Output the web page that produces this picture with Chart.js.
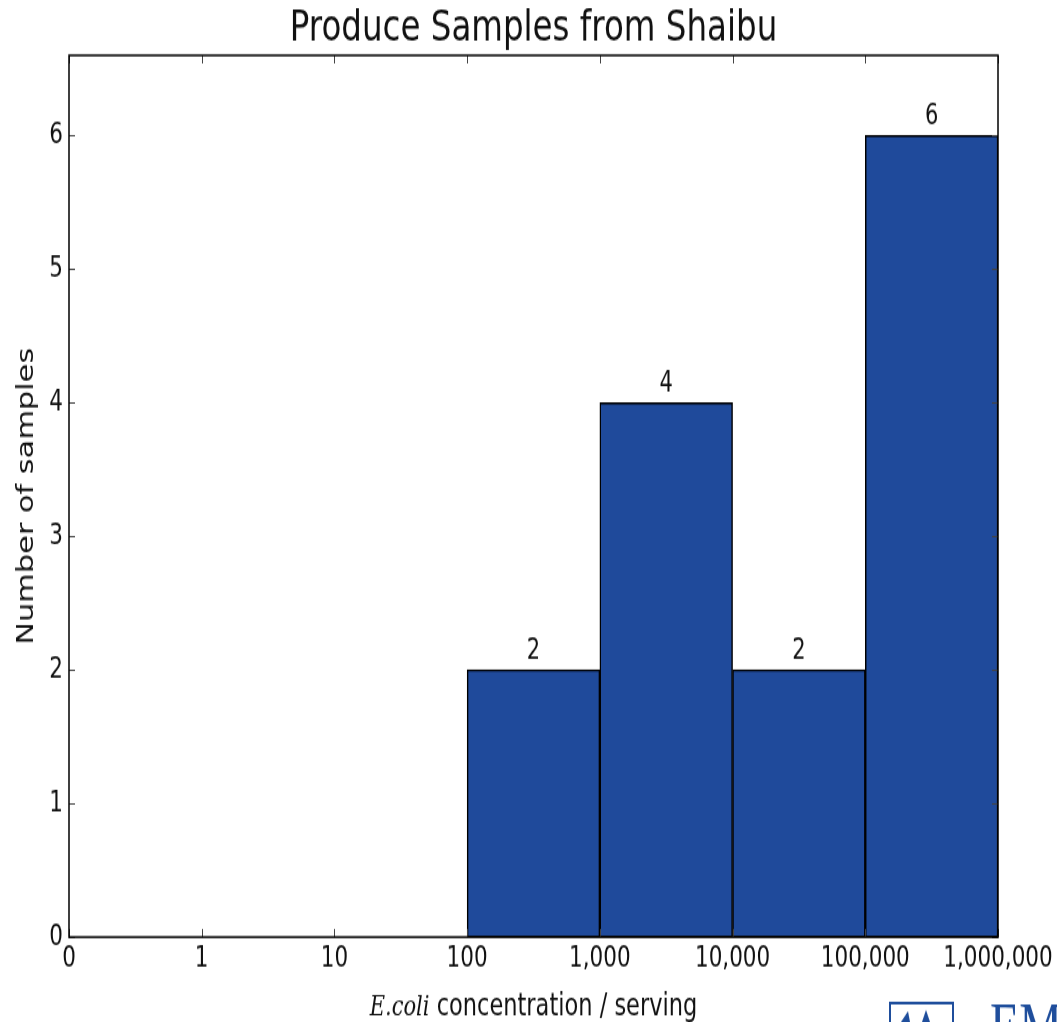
<!DOCTYPE html>
<html>
<head>
<meta charset="utf-8">
<script src="https://cdn.jsdelivr.net/npm/chart.js@4.4.0/dist/chart.umd.min.js"></script>
<style>
  html, body { margin: 0; padding: 0; background: #fff; overflow: hidden; }
  /* the source picture is stretched vertically, so draw a short canvas and scale it up */
  #chart { display: block; width: 1057px !important; height: 1022px !important; }
</style>
</head>
<body>
<canvas id="chart" width="1057" height="757"></canvas>
<script>
// Histogram data
const binEdges = ['0', '1', '10', '100', '1,000', '10,000', '100,000', '1,000,000'];
const counts = [0, 0, 0, 2, 4, 2, 6];
const yTicks = [0, 1, 2, 3, 4, 5, 6];
const yMax = 6.6;

const textColor = '#111';
const barColor = '#1f4a9b';
const logoColor = '#1f4e9c';

// Count labels on top of each bar
const barLabels = {
  id: 'barLabels',
  afterDatasetsDraw(chart) {
    const ctx = chart.ctx;
    ctx.save();
    ctx.font = '21px "DejaVu Sans"';
    ctx.fillStyle = textColor;
    ctx.textAlign = 'center';
    ctx.textBaseline = 'bottom';
    chart.getDatasetMeta(0).data.forEach((bar, i) => {
      if (counts[i] > 0) ctx.fillText(String(counts[i]), bar.x, bar.y - 3);
    });
    ctx.restore();
  }
};

// Box frame with inward ticks, x title with italic E.coli, cut-off logo
const frame = {
  id: 'frame',
  afterDraw(chart) {
    const ctx = chart.ctx;
    const {left, right, top, bottom} = chart.chartArea;
    const xs = chart.scales.x, ys = chart.scales.y;
    ctx.save();
    ctx.strokeStyle = '#444';
    ctx.lineWidth = 1;
    ctx.beginPath();
    binEdges.forEach((_, i) => {
      const px = Math.round(xs.getPixelForValue(i)) + 0.5;
      ctx.moveTo(px, bottom); ctx.lineTo(px, bottom - 6);
      ctx.moveTo(px, top); ctx.lineTo(px, top + 6);
    });
    yTicks.forEach(v => {
      const py = Math.round(ys.getPixelForValue(v)) + 0.5;
      ctx.moveTo(left, py); ctx.lineTo(left + 6, py);
      ctx.moveTo(right, py); ctx.lineTo(right - 6, py);
    });
    ctx.stroke();

    ctx.strokeStyle = '#000';
    ctx.lineWidth = 1.5;
    ctx.strokeRect(left, top, right - left, bottom - top);

    // x axis title
    const part1 = 'E.coli';
    const part2 = ' concentration / serving';
    const f1 = 'italic 21px "DejaVu Serif"';
    const f2 = '22.5px "DejaVu Sans"';
    ctx.font = f1;
    const w1 = ctx.measureText(part1).width;
    ctx.font = f2;
    const w2 = ctx.measureText(part2).width;
    const x0 = (left + right) / 2 - (w1 + w2) / 2;
    const ty = 752;
    ctx.fillStyle = textColor;
    ctx.textAlign = 'left';
    ctx.textBaseline = 'alphabetic';
    ctx.font = f1;
    ctx.fillText(part1, x0, ty);
    ctx.font = f2;
    ctx.fillText(part2, x0 + w1, ty);

    // logo, cut off by the edge
    ctx.strokeStyle = logoColor;
    ctx.lineWidth = 2;
    ctx.strokeRect(890, 743, 63, 30);
    ctx.fillStyle = logoColor;
    ctx.beginPath();
    ctx.moveTo(901, 757); ctx.lineTo(908, 749); ctx.lineTo(910, 757); ctx.closePath();
    ctx.moveTo(922, 757); ctx.lineTo(926, 748); ctx.lineTo(930, 757); ctx.closePath();
    ctx.fill();
    ctx.font = '48px "Liberation Serif"';
    ctx.fillText('EMORY', 990, 776);
    ctx.restore();
  }
};

new Chart(document.getElementById('chart'), {
  type: 'bar',
  data: {
    datasets: [{
      data: counts.map((c, i) => ({x: i + 0.5, y: c})),
      backgroundColor: barColor,
      borderColor: '#000',
      borderWidth: 1.5,
      borderSkipped: false,
      barPercentage: 1,
      categoryPercentage: 1
    }]
  },
  options: {
    responsive: false,
    animation: false,
    layout: { padding: { left: 0, right: 59, top: 0, bottom: 0 } },
    plugins: {
      legend: { display: false },
      tooltip: { enabled: false },
      title: {
        display: true,
        text: 'Produce Samples from Shaibu',
        fullSize: false,
        color: textColor,
        font: { family: 'DejaVu Sans', size: 32.5, weight: 'normal' },
        padding: { top: 2, bottom: 0 }
      }
    },
    scales: {
      x: {
        type: 'linear',
        min: 0,
        max: binEdges.length - 1,
        offset: false,
        grid: { display: false, drawTicks: false },
        border: { display: false },
        ticks: {
          stepSize: 1,
          autoSkip: false,
          maxRotation: 0,
          padding: 3,
          color: textColor,
          font: { family: 'DejaVu Sans', size: 21.5 },
          callback: v => binEdges[v]
        },
        afterFit: scale => {
          scale.height = 62.9;
          scale.paddingLeft = 0;
          scale.paddingRight = 0;
        }
      },
      y: {
        min: 0,
        max: yMax,
        grid: { display: false, drawTicks: false },
        border: { display: false },
        ticks: {
          stepSize: 1,
          includeBounds: false,
          padding: 6,
          color: textColor,
          font: { family: 'DejaVu Sans', size: 21.5 }
        },
        title: {
          display: true,
          text: 'Number of samples',
          color: textColor,
          font: { family: 'DejaVu Sans', size: 22.5 },
          padding: { top: 14, bottom: 0 }
        },
        afterFit: scale => { scale.width = 69; }
      }
    }
  },
  plugins: [barLabels, frame]
});
</script>
</body>
</html>
